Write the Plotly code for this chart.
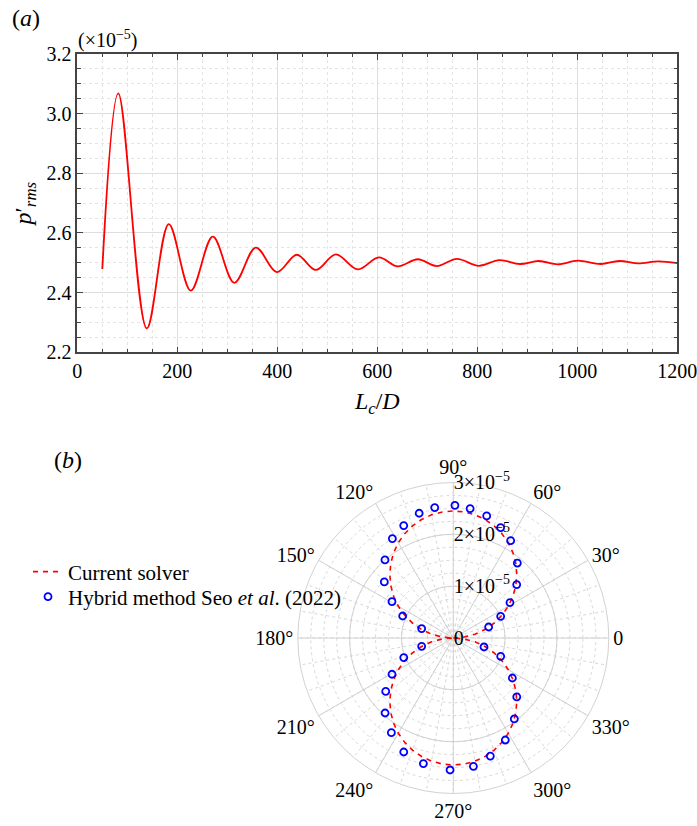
import plotly.graph_objects as go

# (a) p'_rms against L_c/D  (values in units of 1e-5)
lc_d = [50, 82, 139, 183, 227, 271, 314, 357, 399, 439, 477, 517, 561, 603, 641,
        681, 719, 759, 803, 844, 885, 923, 961, 1001, 1047, 1084, 1122, 1162, 1200]
p_rms = [2.479, 3.068, 2.280, 2.630, 2.407, 2.588, 2.433, 2.551, 2.469, 2.527, 2.476,
         2.528, 2.478, 2.518, 2.488, 2.512, 2.489, 2.513, 2.490, 2.509, 2.496, 2.506,
         2.495, 2.507, 2.496, 2.506, 2.498, 2.505, 2.499]

# (b) directivity, current solver (dashed line), theta in degrees, r in 1e-5
solver_theta = list(range(0, 365, 5))
solver_r = [0.0, 0.214, 0.425, 0.634, 0.838, 1.035, 1.225, 1.405, 1.575, 1.732, 1.877,
            2.007, 2.122, 2.220, 2.302, 2.367, 2.413, 2.441, 2.450,
            2.441, 2.413, 2.367, 2.302, 2.220, 2.122, 2.007, 1.877, 1.732, 1.575,
            1.405, 1.225, 1.035, 0.838, 0.634, 0.425, 0.214, 0.0,
            0.214, 0.425, 0.634, 0.838, 1.035, 1.225, 1.405, 1.575, 1.732, 1.877,
            2.007, 2.122, 2.220, 2.302, 2.367, 2.413, 2.441, 2.450,
            2.441, 2.413, 2.367, 2.302, 2.220, 2.122, 2.007, 1.877, 1.732, 1.575,
            1.405, 1.225, 1.035, 0.838, 0.634, 0.425, 0.214, 0.0]

# hybrid method, Seo et al. (2022)
seo_theta = [17.3, 24.6, 32.0, 40.1, 49.5, 59.5, 66.8, 74.7, 82.6, 89.3, 98.1, 105.3,
             113.8, 121.5, 131.2, 140.9, 149.3, 156.5, 163.4, 194.7, 201.6, 210.6,
             218.3, 227.7, 236.8, 246.5, 256.6, 268.6, 278.9, 287.4, 297.0, 307.0,
             317.1, 325.9, 338.9, 343.7]
seo_r = [0.714, 1.005, 1.289, 1.599, 1.902, 2.180, 2.317, 2.441, 2.518, 2.560, 2.541,
         2.495, 2.371, 2.250, 2.001, 1.715, 1.376, 1.065, 0.637, 0.631, 1.028, 1.374,
         1.661, 1.956, 2.182, 2.398, 2.491, 2.547, 2.506, 2.387, 2.209, 1.956, 1.671,
         1.376, 0.980, 0.617]

angle_ticks = [0, 30, 60, 90, 120, 150, 180, 210, 240, 270, 300, 330]
angle_labels = ['0'] + [f'{a}°' for a in angle_ticks[1:]]
radial_ticks = [0, 1e-5, 2e-5, 3e-5]
radial_labels = ['0', '1×10<sup>−5</sup>', '2×10<sup>−5</sup>', '3×10<sup>−5</sup>']

FONT = 'Liberation Serif'
W, H = 697, 826

fig = go.Figure()

fig.add_trace(go.Scatter(x=lc_d, y=p_rms, mode='lines', line=dict(color='red', width=1.8, shape='spline', smoothing=1.0),
                         showlegend=False, xaxis='x', yaxis='y'))

# empty trace so the minor-grid polar gets drawn
fig.add_trace(go.Scatterpolar(theta=[], r=[], mode='lines', showlegend=False, hoverinfo='skip', subplot='polar'))

fig.add_trace(go.Scatterpolar(theta=solver_theta, r=[v * 1e-5 for v in solver_r], mode='lines',
                              line=dict(color='red', width=1.6, dash='5px,5px'),
                              name='Current solver', subplot='polar2', legend='legend'))
fig.add_trace(go.Scatterpolar(theta=seo_theta, r=[v * 1e-5 for v in seo_r], mode='markers',
                              marker=dict(symbol='circle-open', size=7, color='blue', line=dict(width=1.8)),
                              name='Hybrid method Seo <i>et al</i>. (2022)', subplot='polar2', legend='legend2'))

axis_common = dict(showline=True, linecolor='#444', linewidth=1.5, mirror='ticks', ticks='inside',
                   ticklen=6, tickwidth=1.3, tickcolor='#444', showgrid=True, gridcolor='#dedede',
                   gridwidth=1, zeroline=False, automargin=False, ticklabeloverflow='allow',
                   tickfont=dict(family=FONT, size=20, color='black'))
minor_common = dict(ticks='inside', ticklen=3.5, tickwidth=1, tickcolor='#444', showgrid=True,
                    gridcolor='#e4e4e4', griddash='dot', gridwidth=1)
legend_common = dict(xanchor='left', yanchor='middle', bgcolor='rgba(0,0,0,0)',
                     font=dict(family=FONT, size=21), itemwidth=30)

fig.update_layout(
    width=W, height=H, margin=dict(l=0, r=0, t=0, b=0, autoexpand=False),
    paper_bgcolor='white', plot_bgcolor='white',
    font=dict(family=FONT, size=20, color='black'),
    xaxis=dict(domain=[77.3 / W, 677.3 / W], anchor='y', range=[0, 1200], tickvals=list(range(0, 1201, 200)),
               minor=dict(dtick=50, **minor_common),
               title=dict(text='<i>L<sub>c</sub></i>/<i>D</i>', font=dict(family=FONT, size=24), standoff=11),
               **axis_common),
    yaxis=dict(domain=[1 - 352.3 / H, 1 - 54 / H], anchor='x', range=[2.2, 3.2], dtick=0.2, tickformat='.1f',
               minor=dict(dtick=0.05, **minor_common),
               title=dict(text='<i>p</i>′<sub><i>rms</i></sub>', font=dict(family=FONT, size=24), standoff=8),
               **axis_common),
    polar=dict(
        domain=dict(x=[297.8 / W, 608.8 / W], y=[1 - 793.5 / H, 1 - 482.5 / H]),
        bgcolor='white',
        radialaxis=dict(range=[0, 3e-5], tickvals=[i * 0.25e-5 for i in range(13)], showticklabels=False,
                        ticks='', showline=False, gridcolor='#d8d8d8', griddash='dot', gridwidth=1),
        angularaxis=dict(tickvals=list(range(0, 360, 10)), showticklabels=False, ticks='',
                         showline=False, gridcolor='#d8d8d8', griddash='dot', gridwidth=1),
    ),
    polar2=dict(
        domain=dict(x=[297.8 / W, 608.8 / W], y=[1 - 793.5 / H, 1 - 482.5 / H]),
        bgcolor='rgba(0,0,0,0)',
        radialaxis=dict(range=[0, 3e-5], tickvals=radial_ticks, ticktext=radial_labels, angle=90, tickangle=90,
                        showline=False, ticks='', gridcolor='#d2d2d2',
                        tickfont=dict(family=FONT, size=20, color='black')),
        angularaxis=dict(tickvals=angle_ticks, ticktext=angle_labels, direction='counterclockwise', rotation=0,
                         showline=True, linecolor='#d2d2d2', linewidth=1, ticks='', gridcolor='#d2d2d2',
                         tickfont=dict(family=FONT, size=20, color='black')),
    ),
    legend=dict(x=28 / W, y=1 - 572 / H, **legend_common),
    legend2=dict(x=28 / W, y=1 - 597 / H, **legend_common),
)

fig.add_annotation(text='(<i>a</i>)', x=10 / W, y=1 - 18 / H, xref='paper', yref='paper', xanchor='left',
                   yanchor='middle', showarrow=False, font=dict(family=FONT, size=24))
fig.add_annotation(text='(×10<sup>−5</sup>)', x=76 / W, y=1 - 39 / H, xref='paper', yref='paper', xanchor='left',
                   yanchor='middle', showarrow=False, font=dict(family=FONT, size=20))
fig.add_annotation(text='(<i>b</i>)', x=52 / W, y=1 - 460 / H, xref='paper', yref='paper', xanchor='left',
                   yanchor='middle', showarrow=False, font=dict(family=FONT, size=24))

# drop the default page margin so the figure sits at the window's corner
fig.write_html("out.html", config={'displayModeBar': False},
               post_script="document.body.style.margin='0px';")
